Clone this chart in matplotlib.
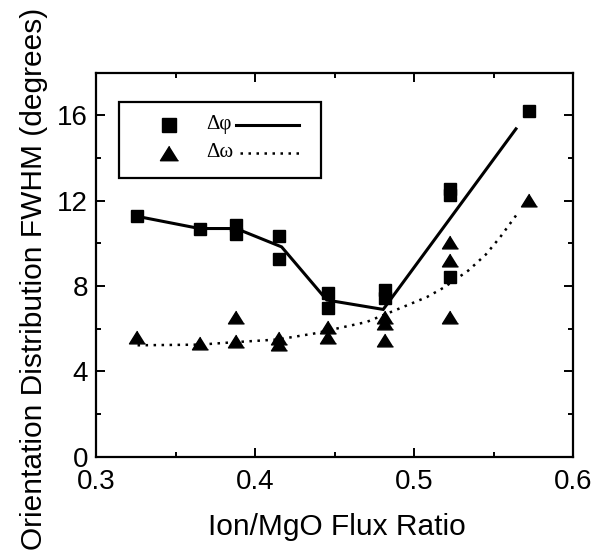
import matplotlib
matplotlib.use("Agg")
import matplotlib.pyplot as plt
from matplotlib.patches import Rectangle
from matplotlib.ticker import MultipleLocator

# ---- data ----
phi_x = [0.3258, 0.365, 0.388, 0.388, 0.415, 0.415, 0.446, 0.446,
         0.4816, 0.4816, 0.5225, 0.5225, 0.5225, 0.5723]
phi_y = [11.26, 10.69, 10.84, 10.45, 10.34, 9.24, 7.65, 6.95,
         7.80, 7.42, 12.55, 12.24, 8.43, 16.18]

omega_x = [0.3258, 0.365, 0.388, 0.388, 0.415, 0.415, 0.446, 0.446,
           0.4816, 0.4816, 0.4816, 0.5225, 0.5225, 0.5225, 0.5723]
omega_y = [5.62, 5.34, 6.56, 5.42, 5.55, 5.28, 6.09, 5.62,
           6.56, 6.25, 5.47, 10.06, 9.20, 6.56, 12.01]

phi_line_x = [0.3258, 0.365, 0.388, 0.4166, 0.445, 0.4805, 0.564]
phi_line_y = [11.26, 10.69, 10.69, 9.83, 7.34, 6.90, 15.36]

omega_line_x = [0.326, 0.365, 0.388, 0.414, 0.437, 0.470, 0.488, 0.508,
                0.519, 0.534, 0.545, 0.554, 0.565]
omega_line_y = [5.22, 5.25, 5.37, 5.49, 5.77, 6.31, 6.86, 7.48,
                7.94, 8.72, 9.47, 10.28, 11.40]

x_ticks = [0.3, 0.4, 0.5, 0.6]
x_ticklabels = ["0.3", "0.4", "0.5", "0.6"]
y_ticks = [0, 4, 8, 12, 16]
y_ticklabels = ["0", "4", "8", "12", "16"]

# ---- figure ----
sans = ["Liberation Sans", "DejaVu Sans"]
serif = ["Liberation Serif", "DejaVu Serif"]

fig = plt.figure(figsize=(5.94, 5.56), dpi=100)
ax = fig.add_axes([0.162, 0.1786, 0.803, 0.691])

dot_style = (0, (1, 2.2))
tri = [(0, 0.8), (-1, -0.8), (1, -0.8)]

ax.plot(phi_line_x, phi_line_y, color="black", lw=2.2, solid_joinstyle="miter")
ax.plot(omega_line_x, omega_line_y, color="black", lw=1.8, linestyle=dot_style)
ax.plot(phi_x, phi_y, linestyle="none", marker="s", ms=8.6, color="black")
ax.plot(omega_x, omega_y, linestyle="none", marker=tri, ms=11.5, color="black")

ax.set_xlim(0.3, 0.6)
ax.set_ylim(0, 18)
ax.set_xticks(x_ticks)
ax.set_xticklabels(x_ticklabels)
ax.set_yticks(y_ticks)
ax.set_yticklabels(y_ticklabels)
ax.xaxis.set_minor_locator(MultipleLocator(0.05))
ax.yaxis.set_minor_locator(MultipleLocator(2))

ax.tick_params(which="both", direction="in", top=True, right=True, width=1.4)
ax.tick_params(which="major", length=6.5, labelsize=20)
ax.tick_params(which="minor", length=3.5)
ax.tick_params(axis="x", which="major", pad=9)
ax.tick_params(axis="y", which="major", pad=6)
for lab in ax.get_xticklabels() + ax.get_yticklabels():
    lab.set_family(sans)
for sp in ax.spines.values():
    sp.set_linewidth(1.6)

ax.set_xlabel("Ion/MgO Flux Ratio", fontsize=21.5, family=sans)
ax.set_ylabel("Orientation Distribution FWHM (degrees)", fontsize=21.5,
              family=sans)
ax.xaxis.set_label_coords(0.5036, -0.1466)
ax.yaxis.set_label_coords(-0.1006, 0.4625)

# ---- legend drawn manually (marker, label, line) ----
T = ax.transAxes
ax.add_patch(Rectangle((0.0476, 0.7246), 0.4234, 0.1994, transform=T,
                       fill=False, edgecolor="black", lw=1.6, zorder=5))
ax.plot([0.153], [0.8634], transform=T, marker="s", ms=9.5, color="black",
        linestyle="none", zorder=6)
ax.plot([0.153], [0.791], transform=T, marker=tri, ms=13, color="black",
        linestyle="none", zorder=6)
ax.text(0.2315, 0.8634, "Δφ", transform=T, fontsize=15, family=serif,
        va="center", ha="left", zorder=6)
ax.text(0.2315, 0.791, "Δω", transform=T, fontsize=15, family=serif,
        va="center", ha="left", zorder=6)
ax.plot([0.294, 0.425], [0.8634, 0.8634], transform=T, color="black", lw=2.2,
        zorder=6)
ax.plot([0.301, 0.425], [0.791, 0.791], transform=T, color="black", lw=1.8,
        linestyle=dot_style, zorder=6)

fig.savefig("out.png", dpi=100)
